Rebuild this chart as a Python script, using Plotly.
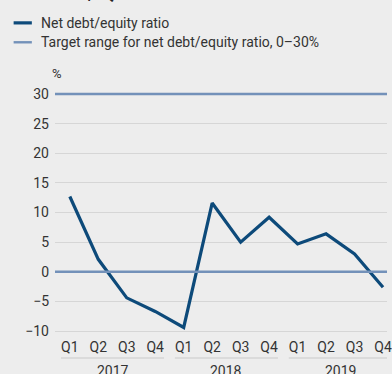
import plotly.graph_objects as go

# ---- data ----
years = ["2017", "2018", "2019"]
quarters = ["Q1", "Q2", "Q3", "Q4"]
net_debt_equity = [12.7, 2.1, -4.4, -6.7, -9.4, 11.6, 5.0, 9.2, 4.7, 6.4, 3.0, -2.6]
target_range = [0, 30]
y_ticks = [-10, -5, 0, 5, 10, 15, 20, 25, 30]
title_text = "NET DEBT/EQUITY RATIO"
series_name = "Net debt/equity ratio"
target_name = "Target range for net debt/equity ratio, 0\u201330%"
unit_label = "%"

# ---- layout constants ----
W, H = 392, 374
ML, MR, MT, MB = 55, 0, 91.4, 39.7
XR = [-0.52, 11.14]
YR = [-10.5, 30.5]
PW, PH = W - ML - MR, H - MT - MB

BG = "#ededed"
DARK = "#0d4a7a"
LIGHT = "#7391b9"
GRID = "#d6d6d6"
TXT = "#333333"
FONT = "Roboto"


def px_x(p):
    return (p - ML) / PW


def px_y(p):
    return (H - MB - p) / PH


x_idx = list(range(len(years) * len(quarters)))
q_labels = [q for _ in years for q in quarters]

fig = go.Figure()
fig.add_trace(go.Scatter(
    x=x_idx, y=net_debt_equity, mode="lines",
    line=dict(color=DARK, width=3.2), showlegend=False, hoverinfo="skip"))

shapes = []
for t in target_range:
    shapes.append(dict(type="line", xref="paper", yref="y", x0=0, x1=1, y0=t, y1=t,
                       line=dict(color=LIGHT, width=2.4), layer="above"))

# year underlines
annotations = []
nq = len(quarters)
for k, yr in enumerate(years):
    i0, i1 = k * nq, k * nq + nq - 1
    shapes.append(dict(type="line", xref="x", yref="paper", x0=i0 - 0.31, x1=i1 + 0.31,
                       y0=px_y(358.3), y1=px_y(358.3), line=dict(color="#c9c9c9", width=1)))
    annotations.append(dict(text=yr, x=(i0 + i1) / 2, xref="x", y=px_y(361), yref="paper",
                            yanchor="top", xanchor="center", showarrow=False,
                            font=dict(family=FONT, size=14, color=TXT)))

# legend (manual)
legend_items = [(series_name, DARK, 3.2, 23.3), (target_name, LIGHT, 2.4, 42.7)]
for name, col, wd, py in legend_items:
    shapes.append(dict(type="line", xref="paper", yref="paper", x0=px_x(13), x1=px_x(31.5),
                       y0=px_y(py), y1=px_y(py), line=dict(color=col, width=wd)))
    annotations.append(dict(text=name, x=px_x(39), xref="paper", y=px_y(py), yref="paper",
                            xanchor="left", yanchor="middle", showarrow=False,
                            font=dict(family=FONT, size=14, color=TXT)))

annotations.append(dict(text=unit_label, x=px_x(57), xref="paper", y=px_y(73.5), yref="paper",
                        xanchor="center", yanchor="middle", showarrow=False,
                        font=dict(family=FONT, size=13, color=TXT)))
annotations.append(dict(text="<b>" + title_text + "</b>", x=px_x(12), xref="paper",
                        y=px_y(6.5), yref="paper", xanchor="left", yanchor="bottom",
                        showarrow=False, font=dict(family=FONT, size=16, color="#222222")))

fig.update_layout(
    width=W, height=H,
    margin=dict(l=ML, r=MR, t=MT, b=MB, pad=0),
    paper_bgcolor=BG, plot_bgcolor=BG,
    showlegend=False,
    shapes=shapes, annotations=annotations,
    xaxis=dict(range=XR, tickmode="array", tickvals=x_idx, ticktext=q_labels,
               showgrid=False, zeroline=False, showline=False, ticks="",
               tickfont=dict(family=FONT, size=14, color=TXT), ticklabelstandoff=3,
               ticklabeloverflow="allow", fixedrange=True),
    yaxis=dict(range=YR, tickmode="array", tickvals=y_ticks, showgrid=True,
               gridcolor=GRID, gridwidth=1.2, zeroline=False, showline=False, ticks="",
               tickfont=dict(family=FONT, size=14, color=TXT), ticklabelstandoff=5,
               fixedrange=True),
)

fig.write_html("out.html")
